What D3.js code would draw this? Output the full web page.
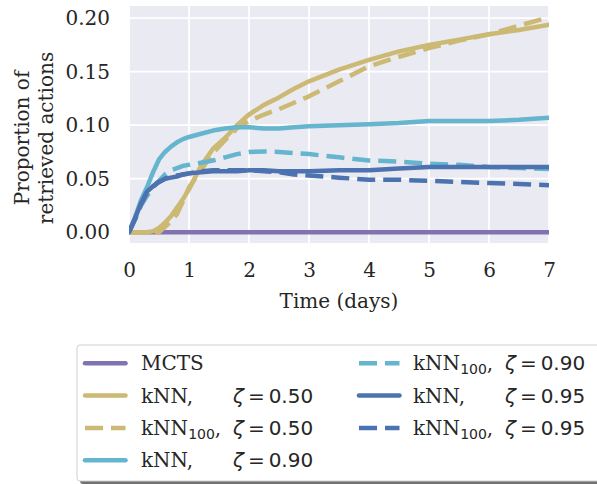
<!DOCTYPE html>
<html>
<head>
<meta charset="utf-8">
<script src="https://cdn.jsdelivr.net/npm/d3@7"></script>
<style>
  body { margin: 0; background: #fff; }
  text { fill: #262626; }
</style>
</head>
<body>
<svg id="chart" width="597" height="484"></svg>
<script>
// time grid (days) shared by every series
const days = [0, 0.1, 0.2, 0.3, 0.4, 0.5, 0.6, 0.7, 0.8, 0.9, 1.0, 1.2, 1.4, 1.6, 1.8, 2.0,
  2.25, 2.5, 2.75, 3.0, 3.5, 4.0, 4.5, 5.0, 5.5, 6.0, 6.5, 7.0];

// proportion of retrieved actions
const mcts = days.map(() => 0);
const knn50 = [0, 0, 0, 0, 0.001, 0.004, 0.009, 0.015, 0.023, 0.031, 0.040, 0.062, 0.078, 0.088, 0.100, 0.110,
  0.119, 0.126, 0.134, 0.141, 0.152, 0.161, 0.169, 0.175, 0.180, 0.185, 0.189, 0.194];
const knn100_50 = [0, 0, 0, 0, 0, 0, 0.005, 0.010, 0.017, 0.029, 0.042, 0.058, 0.074, 0.086, 0.097, 0.104,
  0.110, 0.115, 0.121, 0.127, 0.141, 0.155, 0.164, 0.172, 0.179, 0.185, 0.193, 0.201];
const knn90 = [0, 0.014, 0.030, 0.042, 0.056, 0.068, 0.075, 0.080, 0.084, 0.087, 0.089, 0.092, 0.095, 0.097, 0.098, 0.098,
  0.097, 0.097, 0.098, 0.099, 0.100, 0.101, 0.102, 0.104, 0.104, 0.104, 0.105, 0.107];
const knn100_90 = [0, 0.012, 0.025, 0.034, 0.042, 0.048, 0.054, 0.058, 0.060, 0.062, 0.063, 0.065, 0.067, 0.070, 0.073, 0.075,
  0.0755, 0.075, 0.074, 0.073, 0.070, 0.067, 0.066, 0.064, 0.063, 0.061, 0.060, 0.059];
const knn95 = [0, 0.013, 0.027, 0.038, 0.043, 0.047, 0.050, 0.051, 0.052, 0.054, 0.055, 0.056, 0.057, 0.057, 0.057, 0.058,
  0.058, 0.057, 0.057, 0.057, 0.058, 0.058, 0.0595, 0.061, 0.061, 0.061, 0.061, 0.061];
const knn100_95 = [0, 0.012, 0.026, 0.037, 0.043, 0.047, 0.050, 0.052, 0.053, 0.054, 0.055, 0.057, 0.058, 0.058, 0.058, 0.058,
  0.057, 0.056, 0.054, 0.053, 0.051, 0.049, 0.049, 0.048, 0.047, 0.046, 0.045, 0.044];

const xTicks = [0, 1, 2, 3, 4, 5, 6, 7];
const yTicks = [0, 0.05, 0.10, 0.15, 0.20];

const series = [
  { name: 'MCTS', sub: '', zeta: '', values: mcts, color: '#8172B2', dashed: false },
  { name: 'kNN', sub: '', zeta: '0.50', values: knn50, color: '#CCB974', dashed: false },
  { name: 'kNN', sub: '100', zeta: '0.50', values: knn100_50, color: '#CCB974', dashed: true },
  { name: 'kNN', sub: '', zeta: '0.90', values: knn90, color: '#64B5CD', dashed: false },
  { name: 'kNN', sub: '100', zeta: '0.90', values: knn100_90, color: '#64B5CD', dashed: true },
  { name: 'kNN', sub: '', zeta: '0.95', values: knn95, color: '#4C72B0', dashed: false },
  { name: 'kNN', sub: '100', zeta: '0.95', values: knn100_95, color: '#4C72B0', dashed: true }
];

const svg = d3.select('#chart');
const plotLeft = 129, plotRight = 549, plotTop = 6, plotBottom = 243;
const serif = 'DejaVu Serif, serif';
const sans = 'DejaVu Sans, sans-serif';
const lw = 4.5;
const dash = '18,8';

const x = d3.scaleLinear().domain([0, 7]).range([plotLeft, plotRight]);
const y = d3.scaleLinear().domain([-0.01007, 0.2114]).range([plotBottom, plotTop]);

svg.append('rect')
  .attr('x', plotLeft).attr('y', plotTop)
  .attr('width', plotRight - plotLeft).attr('height', plotBottom - plotTop)
  .attr('fill', '#EAEAF2');

// grid
svg.append('g').selectAll('line').data(xTicks).enter()
  .append('line')
  .attr('x1', d => x(d)).attr('x2', d => x(d))
  .attr('y1', plotTop).attr('y2', plotBottom)
  .attr('stroke', '#fff').attr('stroke-width', 1.8);
svg.append('g').selectAll('line').data(yTicks).enter()
  .append('line')
  .attr('x1', plotLeft).attr('x2', plotRight)
  .attr('y1', d => y(d)).attr('y2', d => y(d))
  .attr('stroke', '#fff').attr('stroke-width', 1.8);

// axes (labels only, seaborn style)
const xAxis = svg.append('g')
  .attr('transform', `translate(0,${plotBottom})`)
  .call(d3.axisBottom(x).tickValues(xTicks).tickSize(0).tickPadding(20).tickFormat(d3.format('d')));
const yAxis = svg.append('g')
  .attr('transform', `translate(${plotLeft},0)`)
  .call(d3.axisLeft(y).tickValues(yTicks).tickSize(0).tickPadding(19).tickFormat(d3.format('.2f')));
[xAxis, yAxis].forEach(g => {
  g.select('.domain').remove();
  g.selectAll('text').attr('font-family', serif).attr('font-size', 20).attr('fill', '#262626');
});

svg.append('text')
  .attr('x', (plotLeft + plotRight) / 2).attr('y', 308)
  .attr('text-anchor', 'middle')
  .attr('font-family', serif).attr('font-size', 20)
  .text('Time (days)');

const ylab = svg.append('text')
  .attr('transform', 'translate(29,138) rotate(-90)')
  .attr('text-anchor', 'middle')
  .attr('font-family', serif).attr('font-size', 20);
ylab.append('tspan').attr('x', 0).attr('y', 0).text('Proportion of');
ylab.append('tspan').attr('x', 0).attr('y', 24).text('retrieved actions');

// lines
const line = d3.line()
  .x((d, i) => x(days[i]))
  .y(d => y(d));

svg.append('defs').append('clipPath').attr('id', 'plotclip')
  .append('rect').attr('x', plotLeft).attr('y', plotTop)
  .attr('width', plotRight - plotLeft).attr('height', plotBottom - plotTop);

svg.append('g').attr('clip-path', 'url(#plotclip)')
  .selectAll('path').data(series).enter()
  .append('path')
  .attr('d', d => line(d.values))
  .attr('fill', 'none')
  .attr('stroke', d => d.color)
  .attr('stroke-width', lw)
  .attr('stroke-linejoin', 'round')
  .attr('stroke-linecap', d => d.dashed ? 'butt' : 'round')
  .attr('stroke-dasharray', d => d.dashed ? dash : null);

// legend
const lg = svg.append('g');
lg.append('rect')
  .attr('x', 80).attr('y', 348).attr('width', 560).attr('height', 136)
  .attr('fill', '#4d4d4d').attr('opacity', 0.8).attr('rx', 3);
lg.append('rect')
  .attr('x', 77).attr('y', 345).attr('width', 560).attr('height', 136)
  .attr('fill', '#fff').attr('stroke', '#d0d0d0').attr('stroke-width', 1).attr('rx', 3);

const cols = [
  { x1: 85, x2: 125.5, tx: 141, zx: 233 },
  { x1: 359, x2: 399.5, tx: 413, zx: 505 }
];
const rowY = i => 363.3 + i * 32.3;

const entries = lg.selectAll('g.entry').data(series).enter()
  .append('g').attr('class', 'entry')
  .attr('transform', (d, i) => `translate(0,${rowY(i < 4 ? i : i - 4)})`);

entries.append('line')
  .attr('x1', (d, i) => cols[i < 4 ? 0 : 1].x1)
  .attr('x2', (d, i) => cols[i < 4 ? 0 : 1].x2)
  .attr('stroke', d => d.color)
  .attr('stroke-width', lw)
  .attr('stroke-linecap', d => d.dashed ? 'butt' : 'round')
  .attr('stroke-dasharray', d => d.dashed ? dash : null);

entries.each(function(d, i) {
  const c = cols[i < 4 ? 0 : 1];
  const g = d3.select(this);
  const t = g.append('text').attr('x', c.tx).attr('y', 7)
    .attr('font-family', serif).attr('font-size', 20);
  t.append('tspan').text(d.name);
  if (d.sub) {
    t.append('tspan').attr('font-family', sans).attr('font-size', 14).attr('dy', 4).text(d.sub);
    t.append('tspan').attr('dy', -4).text(',');
  } else if (d.zeta) {
    t.append('tspan').text(',');
  }
  if (d.zeta) {
    const z = g.append('text').attr('x', c.zx).attr('y', 7)
      .attr('font-family', sans).attr('font-size', 20);
    z.append('tspan').attr('font-style', 'italic').text('ζ');
    z.append('tspan').text('\u2009=\u20090.' + d.zeta.split('.')[1]);
  }
});
</script>
</body>
</html>
